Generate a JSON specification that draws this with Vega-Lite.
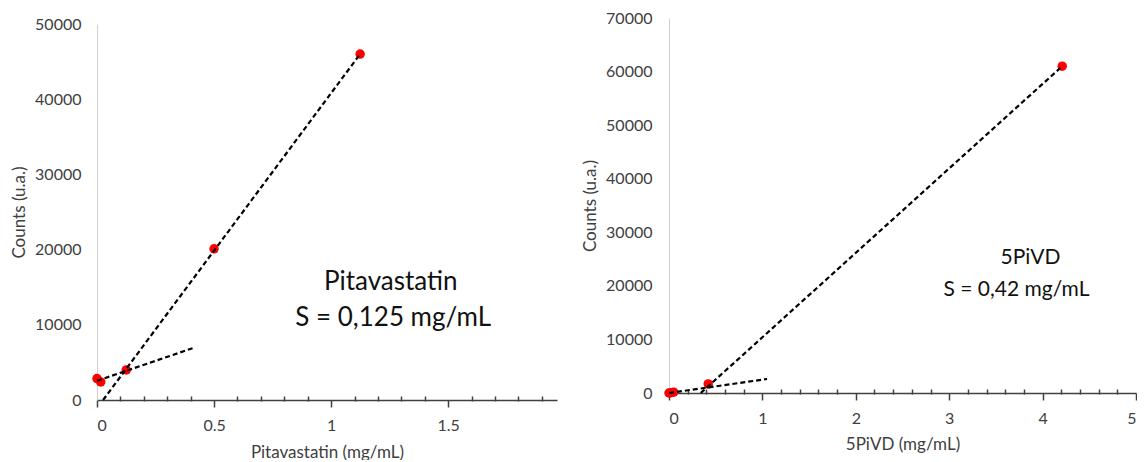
{
  "$schema": "https://vega.github.io/schema/vega-lite/v6.json",
  "padding": {"left": 10, "top": 10, "right": 0, "bottom": 0},
  "autosize": {"type": "pad"},
  "config": {
    "view": {"stroke": null},
    "font": "Lato",
    "axis": {"grid": false, "labelFont": "Lato", "titleFont": "Lato", "labelColor": "#404040", "titleColor": "#404040", "titleFontWeight": "normal", "labelOverlap": false}
  },
  "spacing": 24,
  "datasets": {
    "pitaPoints": [
      {"conc": 0.0, "counts": 2850},
      {"conc": 0.016, "counts": 2400},
      {"conc": 0.125, "counts": 4000},
      {"conc": 0.5, "counts": 20100},
      {"conc": 1.124, "counts": 46000}
    ],
    "pitaLines": [
      {"fit": "high", "conc": 0.026, "counts": 0},
      {"fit": "high", "conc": 1.124, "counts": 46000},
      {"fit": "low", "conc": 0.0, "counts": 2550},
      {"fit": "low", "conc": 0.416, "counts": 6970}
    ],
    "pitaText": [
      {"conc": 1.255, "counts": 15700, "label": "Pitavastatin"},
      {"conc": 1.265, "counts": 10900, "label": "S = 0,125 mg/mL"}
    ],
    "pivdPoints": [
      {"conc": 0.0, "counts": 0},
      {"conc": 0.02, "counts": 60},
      {"conc": 0.05, "counts": 150},
      {"conc": 0.42, "counts": 1700},
      {"conc": 4.21, "counts": 61000}
    ],
    "pivdLines": [
      {"fit": "high", "conc": 0.34, "counts": 0},
      {"fit": "high", "conc": 4.21, "counts": 61000},
      {"fit": "low", "conc": 0.0, "counts": 0},
      {"fit": "low", "conc": 1.05, "counts": 2610}
    ],
    "pivdText": [
      {"conc": 3.87, "counts": 25200, "label": "5PiVD"},
      {"conc": 3.72, "counts": 19200, "label": "S = 0,42 mg/mL"}
    ],
    "empty": []
  },
  "hconcat": [
    {
      "bounds": "flush",
      "spacing": 5,
      "vconcat": [
        {
          "width": 1,
          "height": 1,
          "data": {"name": "empty"},
          "mark": {"type": "point", "opacity": 0},
          "encoding": {}
        },
        {
          "width": 460,
          "height": 376,
          "resolve": {"axis": {"x": "independent"}},
          "layer": [
            {
              "data": {"name": "pitaPoints"},
              "mark": {"type": "point", "filled": true, "color": "#ff0000", "size": 90, "opacity": 1},
              "encoding": {
                "x": {"field": "conc", "type": "quantitative", "scale": {"domain": [0, 1.965], "nice": false},
                  "axis": {"orient": "bottom", "values": [0, 0.5, 1, 1.5], "format": "~g", "title": "Pitavastatin (mg/mL)",
                    "tickSize": 7, "tickColor": "#404040", "tickWidth": 1.5, "domainColor": "#404040", "domainWidth": 1.5,
                    "labelFontSize": 16, "labelPadding": 10, "titleFontSize": 17, "titlePadding": 11}},
                "y": {"field": "counts", "type": "quantitative", "scale": {"domain": [0, 50000], "nice": false},
                  "axis": {"values": [0, 5000, 10000, 15000, 20000, 25000, 30000, 35000, 40000, 45000, 50000], "format": "d",
                    "ticks": false, "domainColor": "#d0d0d0", "domainWidth": 1, "labelPadding": 16, "labelFontSize": 16,
                    "title": "Counts (u.a.)", "titleFontSize": 17, "titlePadding": 6}}
              }
            },
            {
              "data": {"name": "pitaLines"},
              "mark": {"type": "line", "color": "#000000", "strokeDash": [5, 3], "strokeWidth": 2.2},
              "encoding": {
                "x": {"field": "conc", "type": "quantitative",
                  "axis": {"orient": "bottom", "offset": -4, "values": [0.1, 0.2, 0.3, 0.4, 0.6, 0.7, 0.8, 0.9, 1.1, 1.2, 1.3, 1.4, 1.6, 1.7, 1.8, 1.9],
                    "labels": false, "title": null, "domain": false, "tickSize": 5, "tickColor": "#404040", "tickWidth": 1.5}},
                "y": {"field": "counts", "type": "quantitative"},
                "detail": {"field": "fit"}
              }
            },
            {
              "data": {"name": "pitaText"},
              "mark": {"type": "text", "fontSize": 26, "color": "#111111", "font": "Lato"},
              "encoding": {
                "x": {"field": "conc", "type": "quantitative", "axis": null},
                "y": {"field": "counts", "type": "quantitative"},
                "text": {"field": "label"}
              }
            }
          ]
        }
      ]
    },
    {
      "width": 467,
      "height": 375,
      "resolve": {"axis": {"x": "independent"}},
      "layer": [
        {
          "data": {"name": "pivdPoints"},
          "mark": {"type": "point", "filled": true, "color": "#ff0000", "size": 90, "opacity": 1},
          "encoding": {
            "x": {"field": "conc", "type": "quantitative", "scale": {"domain": [0, 5], "nice": false},
              "axis": {"orient": "bottom", "values": [0, 1, 2, 3, 4, 5], "format": "~g", "title": "5PiVD (mg/mL)",
                "tickSize": 7, "tickColor": "#404040", "tickWidth": 1.5, "domainColor": "#404040", "domainWidth": 1.5,
                "labelFontSize": 16, "labelPadding": 10, "titleFontSize": 17, "titlePadding": 10}},
            "y": {"field": "counts", "type": "quantitative", "scale": {"domain": [0, 70000], "nice": false},
              "axis": {"values": [0, 10000, 20000, 30000, 40000, 50000, 60000, 70000], "format": "d",
                "ticks": false, "domainColor": "#d0d0d0", "domainWidth": 1, "labelPadding": 17, "labelFontSize": 16,
                "title": "Counts (u.a.)", "titleFontSize": 17, "titlePadding": 6}}
          }
        },
        {
          "data": {"name": "pivdLines"},
          "mark": {"type": "line", "color": "#000000", "strokeDash": [5, 3], "strokeWidth": 2.2},
          "encoding": {
            "x": {"field": "conc", "type": "quantitative",
              "axis": {"orient": "bottom", "offset": -4, "values": [0.2, 0.4, 0.6, 0.8, 1.2, 1.4, 1.6, 1.8, 2.2, 2.4, 2.6, 2.8, 3.2, 3.4, 3.6, 3.8, 4.2, 4.4, 4.6, 4.8],
                "labels": false, "title": null, "domain": false, "tickSize": 5, "tickColor": "#404040", "tickWidth": 1.5}},
            "y": {"field": "counts", "type": "quantitative"},
            "detail": {"field": "fit"}
          }
        },
        {
          "data": {"name": "pivdText"},
          "mark": {"type": "text", "fontSize": 21, "color": "#111111", "font": "Lato"},
          "encoding": {
            "x": {"field": "conc", "type": "quantitative", "axis": null},
            "y": {"field": "counts", "type": "quantitative"},
            "text": {"field": "label"}
          }
        }
      ]
    }
  ]
}
